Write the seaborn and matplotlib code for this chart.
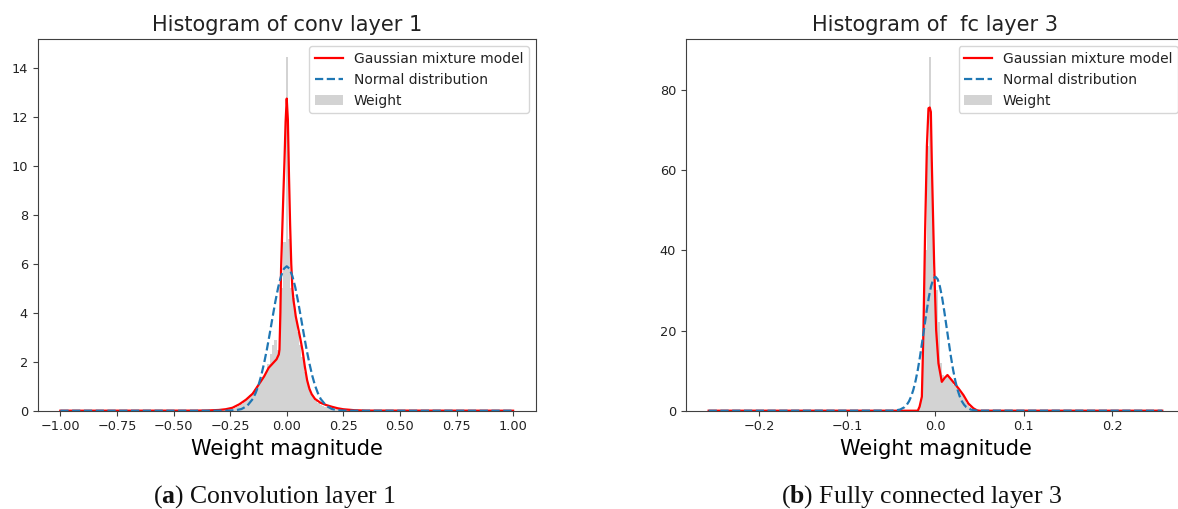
import numpy as np
import pandas as pd
import matplotlib
matplotlib.use("Agg")
import matplotlib.pyplot as plt
import seaborn as sns
from matplotlib.lines import Line2D
from matplotlib.patches import Patch

# ---------------- data: conv layer 1 ----------------
conv_hist_start = -0.355
conv_bin_width = 0.01
conv_hist_heights = [
    0.01, 0.01, 0.01, 0.01, 0.01, 0.02, 0.02, 0.02, 0.03, 0.04,
    0.05, 0.08, 0.10, 0.15, 0.20, 0.28, 0.35, 0.45, 0.55, 0.65,
    0.75, 0.90, 1.00, 1.10, 1.25, 1.40, 1.60, 1.90, 2.30, 2.70,
    2.90, 2.50, 3.20, 5.00, 6.90,
    14.45,
    7.00, 5.00, 4.60, 3.80, 3.20, 2.70, 2.20, 1.60, 1.20, 0.90,
    0.70, 0.50, 0.38, 0.30, 0.25, 0.20, 0.17, 0.14, 0.12, 0.10,
    0.08, 0.06, 0.05, 0.04, 0.03, 0.02, 0.02, 0.01, 0.01, 0.01,
    0.01, 0.01, 0.01, 0.01, 0.01,
]
conv_gmm_x = [-1.0, -0.4, -0.35, -0.3, -0.27, -0.24, -0.21, -0.18, -0.15, -0.12,
              -0.1, -0.08, -0.06, -0.045, -0.035, -0.032, -0.028, -0.025, -0.02,
              -0.015, -0.01, -0.005, 0.0, 0.005, 0.01, 0.015, 0.02, 0.025, 0.03,
              0.035, 0.04, 0.05, 0.06, 0.07, 0.08, 0.09, 0.1, 0.11, 0.125, 0.15,
              0.175, 0.2, 0.225, 0.25, 0.3, 0.35, 1.0]
conv_gmm_y = [0.0, 0.003, 0.01, 0.03, 0.06, 0.12, 0.26, 0.45, 0.70, 1.12,
              1.40, 1.75, 1.95, 2.10, 2.30, 2.50, 4.00, 5.80, 7.30,
              8.80, 10.2, 11.8, 12.75, 11.9, 9.6, 7.6, 6.0, 5.0, 4.5,
              4.2, 3.85, 3.4, 2.95, 2.45, 1.8, 1.25, 0.9, 0.68, 0.48, 0.32,
              0.23, 0.16, 0.10, 0.06, 0.02, 0.005, 0.0]
conv_norm_x = [-1.0, -0.35, -0.3, -0.25, -0.225, -0.2, -0.175, -0.15, -0.1375, -0.125,
               -0.1125, -0.1, -0.0875, -0.075, -0.0625, -0.05, -0.0375, -0.025, -0.0125,
               0.0, 0.0125, 0.025, 0.0375, 0.05, 0.0625, 0.075, 0.0875, 0.1, 0.1125,
               0.125, 0.1375, 0.15, 0.175, 0.2, 0.225, 0.25, 0.3, 0.35, 1.0]
conv_norm_y = [0.0, 0.0, 0.001, 0.006, 0.021, 0.068, 0.195, 0.48, 0.72, 1.03,
               1.44, 1.94, 2.51, 3.15, 3.82, 4.47, 5.05, 5.50, 5.80,
               5.90, 5.80, 5.50, 5.05, 4.47, 3.82, 3.15, 2.51, 1.94, 1.44,
               1.03, 0.72, 0.48, 0.195, 0.068, 0.021, 0.006, 0.001, 0.0, 0.0]

# ---------------- data: fc layer 3 ----------------
fc_hist_start = -0.0275
fc_bin_width = 0.0025
fc_hist_heights = [
    0.0, 0.0, 0.3, 1.0, 3.0, 15.0, 40.0, 66.0, 88.2, 62.0,
    34.0, 30.0, 22.0, 12.0, 9.0, 8.5, 8.5, 8.0, 7.5, 6.5,
    6.0, 5.3, 4.5, 3.8, 2.8, 1.8, 1.0, 0.4, 0.1, 0.0, 0.0,
]
fc_gmm_x = [-0.257, -0.02, -0.018, -0.0154, -0.0136, -0.0117, -0.0097, -0.0079,
            -0.0065, -0.0052, -0.0041, -0.0015, 0.0008, 0.0034, 0.0072, 0.0105,
            0.0136, 0.0185, 0.026, 0.0317, 0.0373, 0.043, 0.047, 0.05, 0.257]
fc_gmm_y = [0.0, 0.0, 1.0, 3.5, 20.0, 45.0, 66.0, 75.4,
            75.6, 74.5, 61.7, 36.8, 20.1, 11.8, 7.2, 8.2,
            8.9, 7.6, 5.6, 3.9, 1.8, 0.6, 0.1, 0.0, 0.0]
fc_norm_x = [-0.257, -0.05, -0.045, -0.04, -0.035, -0.0325, -0.03, -0.0275, -0.025,
             -0.0225, -0.02, -0.0175, -0.015, -0.0125, -0.01, -0.0075, -0.005, -0.0025,
             0.0, 0.0025, 0.005, 0.0075, 0.01, 0.0125, 0.015, 0.0175, 0.02, 0.0225,
             0.025, 0.0275, 0.03, 0.0325, 0.035, 0.04, 0.045, 0.05, 0.257]
fc_norm_y = [0.0, 0.02, 0.08, 0.29, 0.89, 1.47, 2.33, 3.57, 5.26,
             7.47, 10.2, 13.5, 17.2, 21.0, 24.8, 28.3, 31.0, 32.8,
             33.4, 32.8, 31.0, 28.3, 24.8, 21.0, 17.2, 13.5, 10.2, 7.47,
             5.26, 3.57, 2.33, 1.47, 0.89, 0.29, 0.08, 0.02, 0.0]

titles = ["Histogram of conv layer 1", "Histogram of  fc layer 3"]
captions = [r"($\mathbf{a}$) Convolution layer 1", r"($\mathbf{b}$) Fully connected layer 3"]
xlabel = "Weight magnitude"
legend_labels = ["Gaussian mixture model", "Normal distribution", "Weight"]

# ---------------- style ----------------
plt.rcParams["font.family"] = ["DejaVu Sans"]
plt.rcParams["mathtext.fontset"] = "custom"
plt.rcParams["mathtext.rm"] = "Liberation Serif"
plt.rcParams["mathtext.bf"] = "Liberation Serif:bold"
plt.rcParams["axes.edgecolor"] = "#404040"
plt.rcParams["xtick.color"] = "#404040"
plt.rcParams["ytick.color"] = "#404040"
plt.rcParams["xtick.labelcolor"] = "#222222"
plt.rcParams["ytick.labelcolor"] = "#222222"
plt.rcParams["text.color"] = "#222222"

fig = plt.figure(figsize=(11.78, 5.09), dpi=100)
ax_l = fig.add_axes([0.0320, 0.1931, 0.4228, 0.7297])
ax_r = fig.add_axes([0.5823, 0.1931, 0.4236, 0.7297])

panels = [
    (ax_l, conv_hist_start, conv_bin_width, conv_hist_heights, conv_gmm_x, conv_gmm_y, conv_norm_x, conv_norm_y),
    (ax_r, fc_hist_start, fc_bin_width, fc_hist_heights, fc_gmm_x, fc_gmm_y, fc_norm_x, fc_norm_y),
]

for i, (ax, hs, bw, hh, gx, gy, nx, ny) in enumerate(panels):
    n = len(hh)
    edges = [float(e) for e in np.linspace(hs, hs + n * bw, n + 1)]
    centers = [edges[k] + bw / 2 for k in range(n)]
    hdf = pd.DataFrame({"x": centers, "w": hh})
    sns.histplot(data=hdf, x="x", weights="w", bins=edges, stat="count",
                 element="step", fill=True, color="#d3d3d3", alpha=1.0,
                 linewidth=0, ax=ax, zorder=1)
    sns.lineplot(x=gx, y=gy, color="red", lw=1.6, ax=ax, zorder=2)
    sns.lineplot(x=nx, y=ny, color="#1f77b4", lw=1.6, ls="--", ax=ax, zorder=3)
    ax.set_title(titles[i], fontsize=15)
    ax.set_xlabel(xlabel, fontsize=15)
    ax.set_ylabel("")
    ax.tick_params(labelsize=9.3)
    handles = [Line2D([], [], color="red", lw=1.6),
               Line2D([], [], color="#1f77b4", lw=1.6, ls="--"),
               Patch(facecolor="#d3d3d3", edgecolor="none")]
    ax.legend(handles, legend_labels, loc="upper right", fontsize=10)

cap_kw = dict(ha="center", va="baseline", fontsize=18.5,
              family=["Liberation Serif", "DejaVu Serif"], color="#111111")
fig.text(0.2332, 0.0132, captions[0], **cap_kw)
fig.text(0.7827, 0.0132, captions[1], **cap_kw)

fig.savefig("out.png", dpi=100)
